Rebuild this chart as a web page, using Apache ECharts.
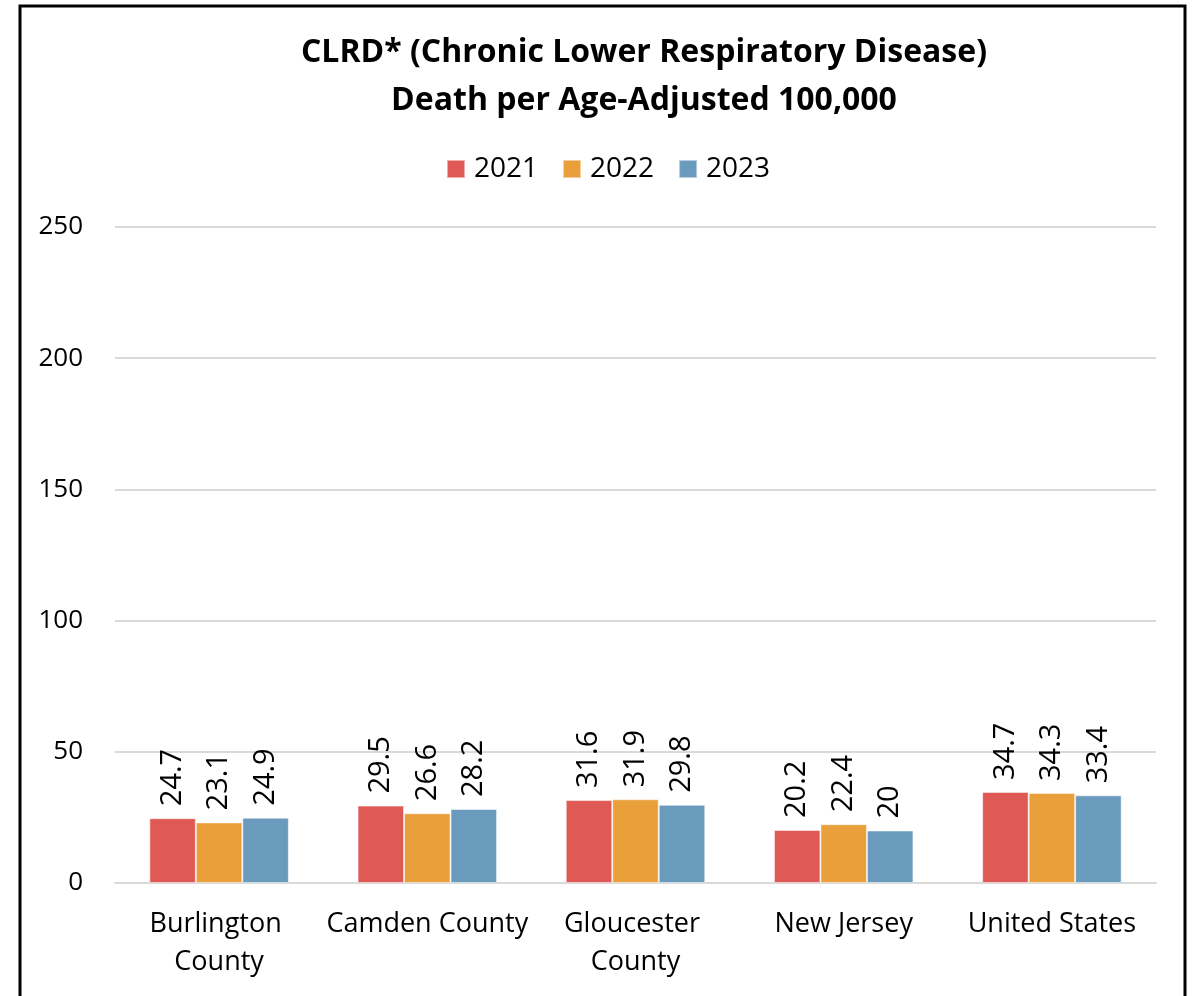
<!DOCTYPE html>
<html>
<head>
<meta charset="utf-8">
<script src="https://cdn.jsdelivr.net/npm/echarts@6/dist/echarts.min.js"></script>
<style>
html,body{margin:0;padding:0;background:#fff;}
#chart{width:1193px;height:996px;}
</style>
</head>
<body>
<div id="chart"></div>
<script>
const categories = ['Burlington County', 'Camden County', 'Gloucester County', 'New Jersey', 'United States'];
const seriesNames = ['2021', '2022', '2023'];
const values2021 = [24.7, 29.5, 31.6, 20.2, 34.7];
const values2022 = [23.1, 26.6, 31.9, 22.4, 34.3];
const values2023 = [24.9, 28.2, 29.8, 20, 33.4];
const colors = ['#E05A55', '#E99F3A', '#6A9BBD'];
const titleText = 'CLRD* (Chronic Lower Respiratory Disease)\nDeath per Age-Adjusted 100,000';

const FONT = '"Open Sans", "Liberation Sans", sans-serif';
const chart = echarts.init(document.getElementById('chart'), null, {renderer: 'canvas'});
const allValues = [values2021, values2022, values2023];

chart.setOption({
  animation: false,
  backgroundColor: '#fff',
  title: {
    text: titleText,
    left: 644,
    top: 29,
    padding: 0,
    textAlign: 'center',
    textStyle: {fontFamily: FONT, fontWeight: 'bold', fontSize: 32, lineHeight: 48, color: '#000'}
  },
  legend: {
    data: seriesNames,
    left: 446,
    top: 155,
    padding: 0,
    itemWidth: 18,
    itemHeight: 18,
    itemGap: 24,
    icon: 'rect',
    textStyle: {fontFamily: FONT, fontSize: 28, color: '#000', padding: [0, 0, 0, 4]}
  },
  grid: {left: 115, right: 37, top: 227, bottom: 113, containLabel: false},
  xAxis: {
    type: 'category',
    data: categories,
    axisLine: {show: true, lineStyle: {color: '#D9D9D9', width: 2}},
    axisTick: {show: false},
    axisLabel: {
      fontFamily: FONT, fontSize: 27, color: '#000', margin: 22, lineHeight: 38,
      width: 207, overflow: 'break', interval: 0
    }
  },
  yAxis: {
    type: 'value',
    min: 0, max: 250, interval: 50,
    axisLine: {show: false},
    axisTick: {show: false},
    splitLine: {lineStyle: {color: '#D9D9D9', width: 2}},
    axisLabel: {fontFamily: FONT, fontSize: 26, color: '#000', margin: 32}
  },
  series: seriesNames.map((name, i) => ({
    name: name,
    type: 'bar',
    data: allValues[i],
    barGap: '0%',
    barCategoryGap: '33%',
    itemStyle: {color: colors[i], borderColor: 'rgba(255,255,255,0.5)', borderWidth: 1},
    label: {
      show: true,
      position: 'top',
      rotate: 90,
      align: 'left',
      verticalAlign: 'middle',
      distance: 12,
      fontFamily: FONT,
      fontSize: 29,
      color: '#000'
    }
  })),
  graphic: [{
    type: 'rect',
    shape: {x: 20, y: 6, width: 1165, height: 1010},
    style: {fill: 'none', stroke: '#000', lineWidth: 3},
    silent: true
  }]
});
</script>
</body>
</html>
